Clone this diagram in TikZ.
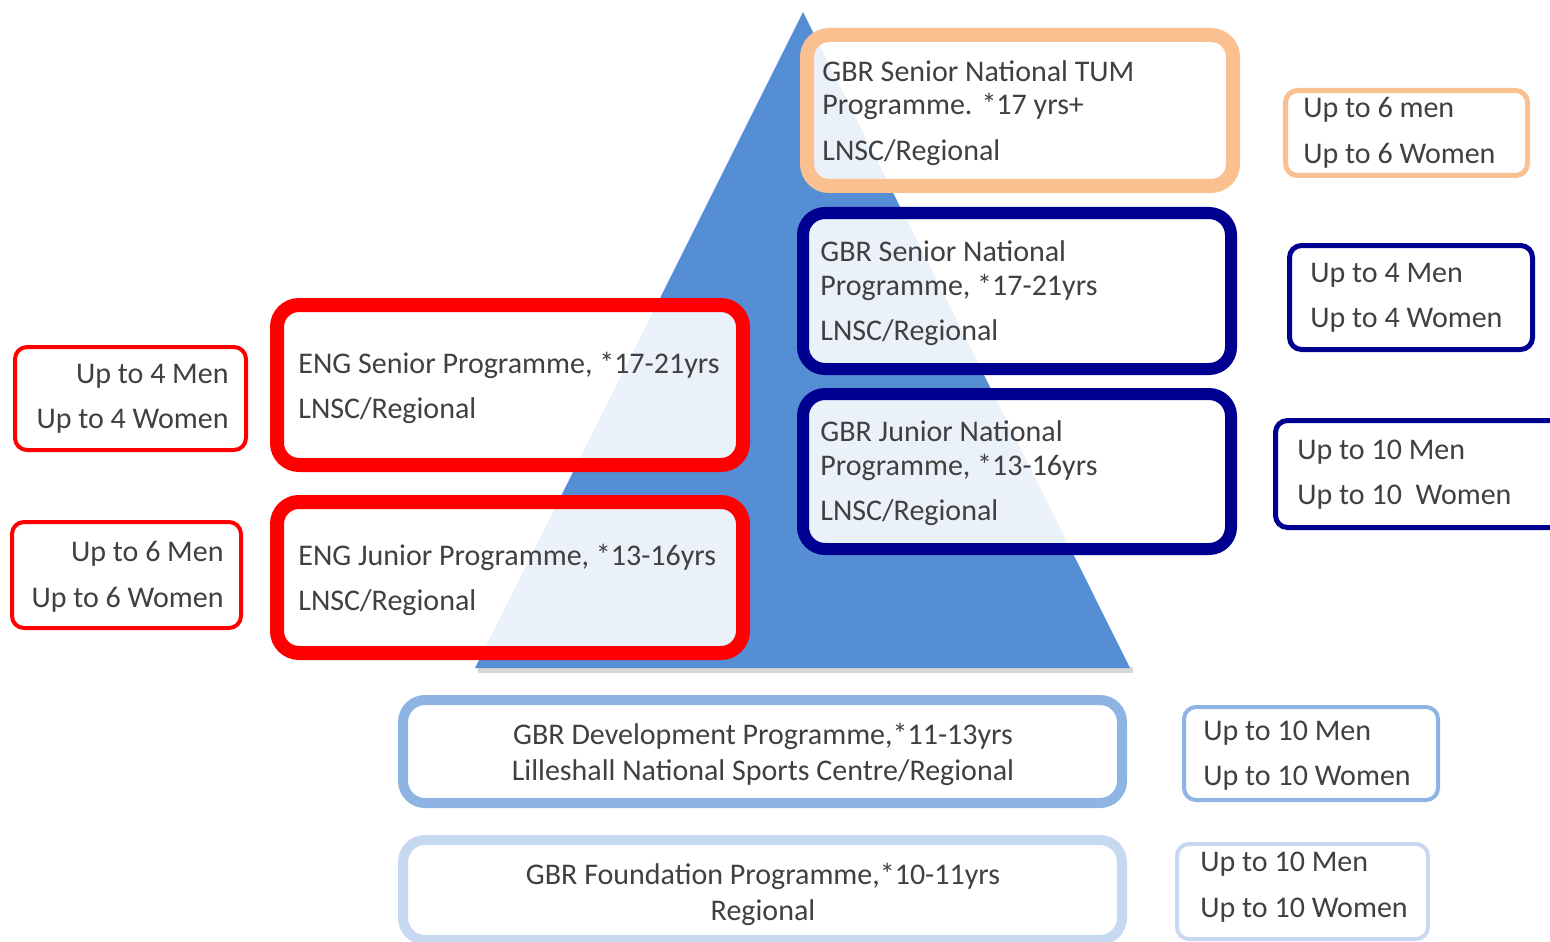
\documentclass[tikz,border=0pt]{standalone}
\usepackage{fontspec}
\setmainfont{Carlito}
\definecolor{pyr}{HTML}{558ED5}
\definecolor{orng}{HTML}{FAC090}
\definecolor{navy}{HTML}{000090}
\definecolor{devb}{HTML}{8EB4E3}
\definecolor{fndb}{HTML}{C6D9F1}
\definecolor{txt}{HTML}{404040}
\tikzset{
  boxbase/.style={rectangle, fill=white, fill opacity=0.88, draw opacity=1, inner sep=0pt},
  bigbox/.style={boxbase, rounded corners=11pt},
  smallbox/.style={boxbase, rounded corners=6pt},
  lt/.style={anchor=base west, inner sep=0pt, text=txt, font=\fontsize{15}{17}\selectfont},
  rt/.style={anchor=base east, inner sep=0pt, text=txt, font=\fontsize{15}{17}\selectfont},
  ct/.style={anchor=base, inner sep=0pt, text=txt, font=\fontsize{15}{17}\selectfont},
}
\begin{document}
\begin{tikzpicture}[x=0.5pt,y=-0.5pt]
\useasboundingbox (0,0) rectangle (1550,941);
% pyramid
\fill[gray!45, opacity=0.7] (478,667) rectangle (1133,673);
\coordinate (apex) at (803,12);
\coordinate (bl) at (475,668);
\coordinate (br) at (1130,668);
\fill[pyr] (apex) -- (br) -- (bl) -- cycle;

% big boxes
\node[bigbox, draw=orng, line width=7pt, minimum width=213pt, minimum height=75.5pt] (tum) at (1020,110.5) {};
\node[bigbox, draw=navy, line width=6pt, minimum width=214pt, minimum height=78pt] (sen) at (1017,291) {};
\node[bigbox, draw=navy, line width=6pt, minimum width=214pt, minimum height=77.5pt] (jun) at (1017,471.5) {};
\node[bigbox, draw=red, line width=7pt, minimum width=233pt, minimum height=80pt] (engs) at (510,385) {};
\node[bigbox, draw=red, line width=7pt, minimum width=233pt, minimum height=75.5pt] (engj) at (510,577.5) {};
\node[bigbox, draw=devb, line width=5pt, minimum width=359.5pt, minimum height=51.5pt] (dev) at (762.5,751.5) {};
\node[bigbox, draw=fndb, line width=5pt, minimum width=359.5pt, minimum height=50pt] (fnd) at (762.5,890) {};

% small boxes
\node[smallbox, draw=orng, line width=2.5pt, minimum width=121pt, minimum height=42.5pt] (qtum) at (1406.5,133) {};
\node[smallbox, draw=navy, line width=2.5pt, minimum width=121.5pt, minimum height=52pt] (qsen) at (1411,297.5) {};
\node[smallbox, draw=navy, line width=2.5pt, minimum width=147.25pt, minimum height=53.5pt] (qjun) at (1422.75,474) {};
\node[smallbox, draw=devb, line width=2pt, minimum width=127pt, minimum height=46.5pt] (qdev) at (1311,753.5) {};
\node[smallbox, draw=fndb, line width=2pt, minimum width=125.5pt, minimum height=47.5pt] (qfnd) at (1302.5,891.5) {};
\node[smallbox, draw=red, line width=2pt, minimum width=115.5pt, minimum height=51.5pt] (qengs) at (130.5,398.5) {};
\node[smallbox, draw=red, line width=2pt, minimum width=114.5pt, minimum height=53pt] (qengj) at (126.5,575) {};

% texts big boxes
\node[lt] (tum1) at (822,82) {GBR Senior National TUM};
\node[lt] (tum2) at (822,115) {Programme. *17 yrs+};
\node[lt] (tum3) at (822,161) {LNSC/Regional};
\node[lt] (sen1) at (820,261) {GBR Senior National};
\node[lt] (sen2) at (820,295) {Programme, *17-21yrs};
\node[lt] (sen3) at (820,340) {LNSC/Regional};
\node[lt] (jun1) at (820,441) {GBR Junior National};
\node[lt] (jun2) at (820,475) {Programme, *13-16yrs};
\node[lt] (jun3) at (820,520) {LNSC/Regional};
\node[lt] (engs1) at (298,373) {ENG Senior Programme, *17-21yrs};
\node[lt] (engs2) at (298,418) {LNSC/Regional};
\node[lt] (engj1) at (298,565) {ENG Junior Programme, *13-16yrs};
\node[lt] (engj2) at (298,610) {LNSC/Regional};
\node[ct] (dev1) at (763,744) {GBR Development Programme,*11-13yrs};
\node[ct] (dev2) at (763,780) {Lilleshall National Sports Centre/Regional};
\node[ct] (fnd1) at (763,884) {GBR Foundation Programme,*10-11yrs};
\node[ct] (fnd2) at (763,920) {Regional};

% texts small boxes
\node[lt] (qtum1) at (1303,118) {Up to 6 men};
\node[lt] (qtum2) at (1303,164) {Up to 6 Women};
\node[lt] (qsen1) at (1310,282) {Up to 4 Men};
\node[lt] (qsen2) at (1310,327) {Up to 4 Women};
\node[lt] (qjun1) at (1297,459) {Up to 10 Men};
\node[lt] (qjun2) at (1297,504) {Up to 10\ \ Women};
\node[lt] (qdev1) at (1203,740) {Up to 10 Men};
\node[lt] (qdev2) at (1203,785) {Up to 10 Women};
\node[lt] (qfnd1) at (1200,871) {Up to 10 Men};
\node[lt] (qfnd2) at (1200,917) {Up to 10 Women};
\node[rt] (qengs1) at (229,383) {Up to 4 Men};
\node[rt] (qengs2) at (229,428) {Up to 4 Women};
\node[rt] (qengj1) at (224,561) {Up to 6 Men};
\node[rt] (qengj2) at (224,607) {Up to 6 Women};
\end{tikzpicture}
\end{document}
